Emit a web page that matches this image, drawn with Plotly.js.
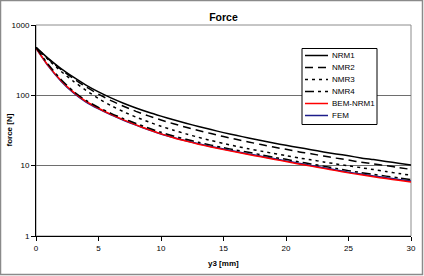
<!DOCTYPE html>
<html>
<head>
<meta charset="utf-8">
<script src="https://cdn.plot.ly/plotly-3.0.1.min.js"></script>
<style>
  html, body { margin: 0; padding: 0; background: #fff; }
  #chart { width: 424px; height: 276px; }
</style>
</head>
<body>
<div id="chart"></div>
<script>
// y3 [mm]
const y3 = [0,1,2,3,4,5,6,7,8,9,10,11,12,13,14,15,16,17,18,19,20,21,22,23,24,25,26,27,28,29,30];

// force [N]
const NRM1 = [480,332,240,181,140,112,92,77.3,66.1,57.4,50.6,44.9,40.1,36.1,32.6,29.5,27.0,24.8,22.8,21.0,19.5,18.1,16.9,15.7,14.7,13.8,12.9,12.2,11.5,10.8,10.2];
const NMR2 = [480,327,233,173,132,104,84.2,70,59.2,51,44.6,39.5,35.2,31.7,28.6,25.9,23.7,21.7,20.0,18.4,17.1,15.8,14.8,13.7,12.8,12.0,11.2,10.6,10.0,9.4,8.85];
const NMR3 = [480,318,220,158,118,90,71.5,58.5,49,42,36.3,31.9,28.3,25.3,22.8,20.7,18.9,17.4,16.1,14.9,13.9,12.9,12.1,11.3,10.6,9.95,9.35,8.8,8.25,7.75,7.3];
const NMR4 = [480,272,168,114,84.5,67.5,55.5,46.7,39.8,34.3,29.8,26.4,23.7,21.5,19.6,18.0,16.7,15.5,14.3,13.2,12.3,11.4,10.6,9.85,9.15,8.5,7.98,7.5,7.1,6.72,6.36];
const BEM_NRM1 = [470,262,163,111,82,65.5,53.5,44.8,38,32.6,28.3,25,22.4,20.2,18.4,16.9,15.6,14.4,13.35,12.35,11.45,10.6,9.85,9.15,8.5,7.9,7.4,6.95,6.55,6.2,5.88];
const FEM = [470,258,159,108,80,64.1,52.7,44.3,37.7,32.4,28.2,25.1,22.6,20.5,18.75,17.2,15.9,14.7,13.6,12.6,11.7,10.84,10.07,9.35,8.69,8.09,7.59,7.14,6.75,6.38,6.05];

const seriesNames = ['NRM1','NMR2','NMR3','NMR4','BEM-NRM1','FEM'];
const seriesData = [NRM1, NMR2, NMR3, NMR4, BEM_NRM1, FEM];
const seriesColors = ['#000000','#000000','#000000','#000000','#ff0000','#1c1c8a'];
const seriesDash = ['solid','8px,5px','3px,4px','9px,4px,3px,4px','solid','solid'];

const xTicks = [0,5,10,15,20,25,30];
const yTicks = [1,10,100,1000];
const yTickText = ['1','10','100','1000'];

const FONT = 'Liberation Sans, Arial, sans-serif';

// drawing order: put FEM/BEM under dashed lines
const order = [5,4,3,2,1,0];
const traces = order.map(i => ({
  x: y3, y: seriesData[i], name: seriesNames[i], type: 'scatter', mode: 'lines',
  line: {color: seriesColors[i], width: 1.5, dash: seriesDash[i], shape: 'spline', smoothing: 0.6},
  hoverinfo: 'skip', showlegend: false
}));

// plot area geometry in px (for paper conversion of decorations)
const L = 36, R = 411, T = 25, B = 236;
const px2x = p => (p - L) / (R - L);
const px2y = p => (B - p) / (B - T);

const shapes = [];
const annotations = [];

// outer chart border
shapes.push({type:'rect', xref:'paper', yref:'paper', x0:px2x(0.5), x1:px2x(422.5), y0:px2y(0.5), y1:px2y(274.5),
  line:{color:'#8a8a8a', width:1.5}, fillcolor:'rgba(0,0,0,0)', layer:'below'});
// plot area border (gray)
shapes.push({type:'rect', xref:'paper', yref:'paper', x0:0, x1:1, y0:0, y1:1,
  line:{color:'#8c8c8c', width:1}, fillcolor:'rgba(0,0,0,0)', layer:'below'});

// legend box
const lgL = 302, lgR = 377, lgT = 48.5, lgB = 124.5;
shapes.push({type:'rect', xref:'paper', yref:'paper', x0:px2x(lgL), x1:px2x(lgR), y0:px2y(lgB), y1:px2y(lgT),
  line:{color:'#000', width:1}, fillcolor:'#ffffff', layer:'above'});
const lgRows = [55.5, 67.5, 79.5, 91.5, 103.5, 115.5];
for (let i = 0; i < seriesNames.length; i++) {
  const yy = px2y(lgRows[i]);
  shapes.push({type:'line', xref:'paper', yref:'paper', x0:px2x(305), x1:px2x(328), y0:yy, y1:yy,
    line:{color:seriesColors[i], width:1.5, dash:seriesDash[i]}, layer:'above'});
  annotations.push({xref:'paper', yref:'paper', x:px2x(329.5), y:yy, xanchor:'left', yanchor:'middle',
    text: seriesNames[i], showarrow:false, font:{family:FONT, size:8, color:'#000'}});
}

// axis titles as annotations for exact placement
annotations.push({xref:'paper', yref:'paper', x:px2x(223.5), y:px2y(263), xanchor:'center', yanchor:'middle',
  text:'<b>y3 [mm]</b>', showarrow:false, font:{family:FONT, size:8, color:'#000'}});
annotations.push({xref:'paper', yref:'paper', x:px2x(9), y:px2y(130.5), xanchor:'center', yanchor:'middle',
  text:'<b>force [N]</b>', textangle:-90, showarrow:false, font:{family:FONT, size:8, color:'#000'}});

const layout = {
  width: 424, height: 276,
  margin: {l: L, r: 424 - R, t: T, b: 276 - B, pad: 0},
  paper_bgcolor: '#ffffff', plot_bgcolor: '#ffffff',
  showlegend: false,
  title: {text: '<b>Force</b>', font: {family: FONT, size: 10.5, color: '#000'}, x: 0.5, xref: 'paper', xanchor: 'center', y: 1 - 17/276, yanchor: 'middle'},
  xaxis: {
    range: [0, 30], tickvals: xTicks, ticktext: xTicks.map(String),
    showgrid: false, zeroline: false,
    showline: true, linecolor: '#000', linewidth: 1,
    ticks: 'outside', ticklen: 4, tickcolor: '#000', tickwidth: 1,
    tickfont: {family: FONT, size: 8, color: '#000'}
  },
  yaxis: {
    type: 'log', range: [0, 3], tickvals: yTicks, ticktext: yTickText,
    showgrid: true, gridcolor: '#6e6e6e', gridwidth: 1, zeroline: false,
    showline: true, linecolor: '#000', linewidth: 1,
    ticks: 'outside', ticklen: 4, tickcolor: '#000', tickwidth: 1,
    tickfont: {family: FONT, size: 8, color: '#000'}
  },
  shapes: shapes,
  annotations: annotations
};

Plotly.newPlot('chart', traces, layout, {staticPlot: true, displayModeBar: false});
</script>
</body>
</html>
